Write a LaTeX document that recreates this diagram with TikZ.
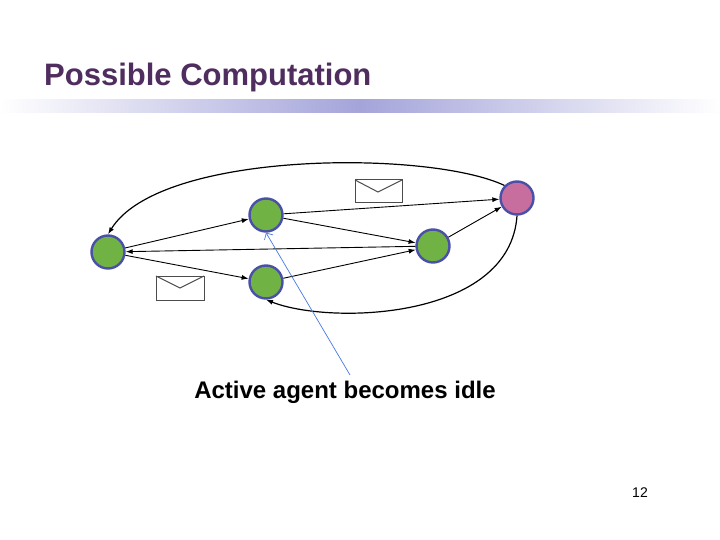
\documentclass[tikz,border=0pt]{standalone}
\usepackage{fontspec}
\setmainfont{Liberation Sans}
\usetikzlibrary{arrows.meta}
\definecolor{ttl}{HTML}{4F2D5F}
\definecolor{bar}{HTML}{A4A4DA}
\definecolor{grn}{HTML}{70B244}
\definecolor{pnk}{HTML}{C76E9E}
\definecolor{rim}{HTML}{4A4FA8}
\tikzset{agent/.style={circle,draw=rim,line width=2.4pt,fill=grn,minimum size=33pt,inner sep=0pt},
 edge/.style={-{Latex[length=7pt,width=5pt]},line width=0.9pt},
 env/.style={draw=black!70,line width=1pt,fill=white}}
\begin{document}
\begin{tikzpicture}[x=1pt,y=-1pt]
\useasboundingbox (0,0) rectangle (720,540);
\shade[left color=white,right color=bar] (0,100) rectangle (360,113);
\shade[left color=bar,right color=white] (360,100) rectangle (720,113);
\node[anchor=base west,text=ttl,font=\bfseries\fontsize{31}{36}\selectfont,inner sep=0pt] (title) at (44,86) {Possible Computation};
\node[agent] (A) at (108,252) {};
\node[agent] (B) at (266,215) {};
\node[agent] (C) at (266,282) {};
\node[agent] (D) at (433,246) {};
\node[agent,fill=pnk] (E) at (517,198) {};
\draw[edge] (A) -- (B);
\draw[edge] (A) -- (C);
\draw[edge] (B) -- (D);
\draw[edge] (B) -- (E);
\draw[edge] (C) -- (D);
\draw[edge] (D) -- (A);
\draw[edge] (D) -- (E);
\draw[edge,line width=1.2pt] (E.north west) .. controls (430,150) and (160,150) .. (A.north);
\draw[edge,line width=1.2pt] (E.south) .. controls (510,320) and (330,325) .. (C.south);
\draw[env] (355,180) rectangle (402,203);
\draw[black!70,line width=1pt] (355,180) -- (378,192) -- (402,180);
\draw[env] (156,276) rectangle (204,300);
\draw[black!70,line width=1pt] (156,276) -- (180,288) -- (204,276);
\node[font=\bfseries\fontsize{24}{28}\selectfont] (lbl) at (345,392) {Active agent becomes idle};
\coordinate (s) at (350,375);
\draw[-{Straight Barb[length=5pt]},draw={rgb,255:red,70;green,120;blue,230},line width=0.7pt] (s) -- (B.south);
\node[font=\fontsize{14}{16}\selectfont] (pg) at (640,493) {12};
\end{tikzpicture}
\end{document}
